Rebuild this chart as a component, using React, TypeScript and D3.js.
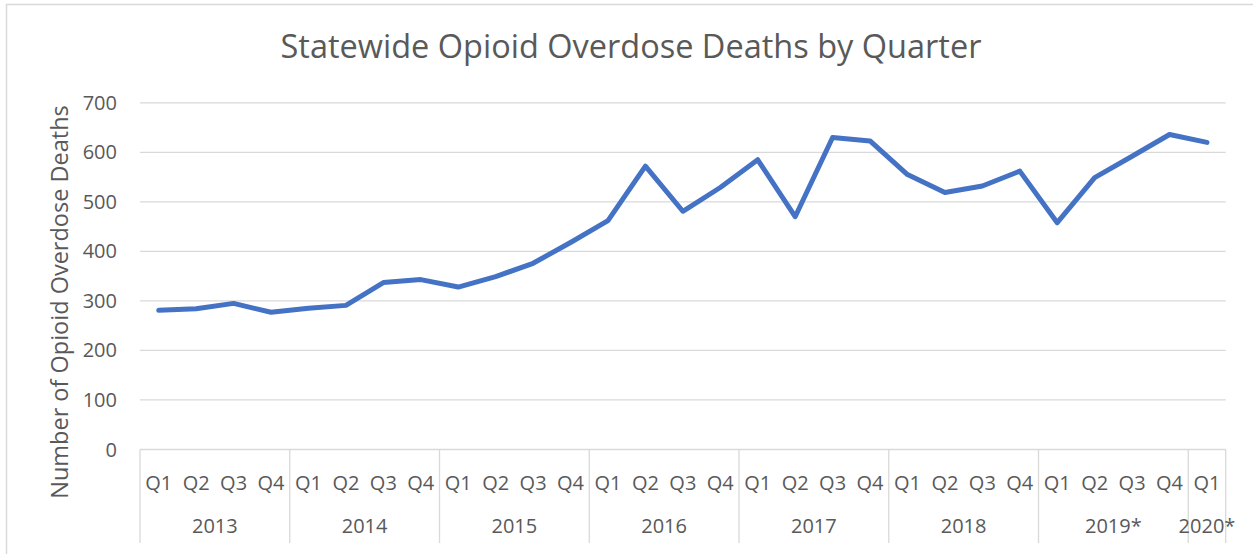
import React from 'react';
import * as d3 from 'd3';

const years = ['2013', '2014', '2015', '2016', '2017', '2018', '2019*', '2020*'];
const quartersPerYear = [4, 4, 4, 4, 4, 4, 4, 1];
const quarterLabels = ['Q1', 'Q2', 'Q3', 'Q4'];
const deaths = [
  281, 284, 295, 277,
  285, 291, 337, 343,
  328, 349, 376, 418,
  462, 572, 481, 529,
  585, 470, 630, 623,
  555, 519, 532, 562,
  458, 549, 592, 636,
  620,
];
const yTicks = [0, 100, 200, 300, 400, 500, 600, 700];
const title = 'Statewide Opioid Overdose Deaths by Quarter';
const yTitle = 'Number of Opioid Overdose Deaths';

const W = 1253;
const H = 554;
const FONT = '"Open Sans", "Liberation Sans", sans-serif';
const TEXT = '#595959';
const GRID = '#d9d9d9';

type Cat = { id: string; year: string; q: string };

export default function App() {
  const cats: Cat[] = [];
  years.forEach((yr, yi) => {
    for (let k = 0; k < quartersPerYear[yi]; k++) {
      cats.push({ id: `${yr}-${quarterLabels[k]}`, year: yr, q: quarterLabels[k] });
    }
  });

  const left = 140;
  const right = 1225.7;
  const bottom = 449.5;
  const top = 102.8;
  const axisBottom = 543;

  const x = d3.scaleBand<string>().domain(cats.map((c) => c.id)).range([left, right]).padding(0);
  const y = d3.scaleLinear().domain([0, 700]).range([bottom, top]);
  const bw = x.bandwidth();

  const line = d3
    .line<number>()
    .x((_, i) => (x(cats[i].id) as number) + bw / 2)
    .y((d) => y(d));

  const groups: { year: string; x0: number; x1: number }[] = [];
  let idx = 0;
  years.forEach((yr, yi) => {
    const first = cats[idx];
    const last = cats[idx + quartersPerYear[yi] - 1];
    groups.push({ year: yr, x0: x(first.id) as number, x1: (x(last.id) as number) + bw });
    idx += quartersPerYear[yi];
  });

  return (
    <svg
      width={W}
      height={H}
      style={{ position: 'absolute', left: 0, top: 0, background: '#fff' }}
      fontFamily={FONT}
    >
      <rect x={6.5} y={4.5} width={W + 20} height={H + 20} fill="#fff" stroke={GRID} strokeWidth={1.5} />
      <text x={631} y={58} textAnchor="middle" fontSize={32.5} fill={TEXT}>
        {title}
      </text>
      {yTicks.map((t) => (
        <g key={t}>
          {t !== 0 && (
            <line x1={left} x2={right} y1={y(t)} y2={y(t)} stroke={GRID} strokeWidth={1.3} />
          )}
          <text x={117} y={y(t)} dy="0.35em" textAnchor="end" fontSize={20} fill={TEXT}>
            {t}
          </text>
        </g>
      ))}
      <line x1={left} x2={right} y1={bottom} y2={bottom} stroke={GRID} strokeWidth={1.3} />
      {groups.map((g, i) => (
        <g key={g.year}>
          {i === 0 && (
            <line x1={g.x0} x2={g.x0} y1={bottom} y2={axisBottom} stroke={GRID} strokeWidth={1.3} />
          )}
          <line x1={g.x1} x2={g.x1} y1={bottom} y2={axisBottom} stroke={GRID} strokeWidth={1.3} />
          <text x={(g.x0 + g.x1) / 2} y={526} dy="0.35em" textAnchor="middle" fontSize={20} fill={TEXT}>
            {g.year}
          </text>
        </g>
      ))}
      {cats.map((c) => (
        <text
          key={c.id}
          x={(x(c.id) as number) + bw / 2}
          y={483}
          dy="0.35em"
          textAnchor="middle"
          fontSize={20}
          fill={TEXT}
        >
          {c.q}
        </text>
      ))}
      <text
        transform={`translate(60, 302) rotate(-90)`}
        textAnchor="middle"
        dy="0.35em"
        fontSize={23.5}
        fill={TEXT}
      >
        {yTitle}
      </text>
      <path
        d={line(deaths) || ''}
        fill="none"
        stroke="#4472C4"
        strokeWidth={5}
        strokeLinecap="round"
        strokeLinejoin="round"
      />
    </svg>
  );
}
